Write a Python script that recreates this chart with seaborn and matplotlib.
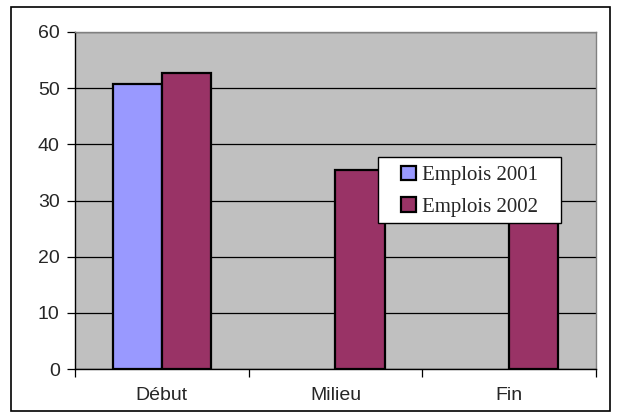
import numpy as np
import pandas as pd
import seaborn as sns
import matplotlib.pyplot as plt
from matplotlib.patches import Rectangle

# data
periods = ['Début', 'Milieu', 'Fin']
emplois_2001 = [50.8, np.nan, np.nan]
emplois_2002 = [52.7, 35.4, 32.0]
series = ['Emplois 2001', 'Emplois 2002']
colors = ['#9999FF', '#993366']

df = pd.DataFrame({'periode': periods * 2,
                   'valeur': emplois_2001 + emplois_2002,
                   'serie': [series[0]] * 3 + [series[1]] * 3})

sns.set_style('white')
plt.rcParams['font.family'] = ['Liberation Sans', 'DejaVu Sans']

fig = plt.figure(figsize=(6.21, 4.18), dpi=100)
ax = fig.add_axes([75 / 621, 1 - 369 / 418, 521 / 621, 337 / 418])

sns.barplot(data=df, x='periode', y='valeur', hue='serie', order=periods,
            hue_order=series, palette=colors, width=0.565, saturation=1,
            edgecolor='black', linewidth=1.6, ax=ax, zorder=3)

ax.set_facecolor('#C0C0C0')
ax.set_xlim(-0.5, 2.5)
ax.set_ylim(0, 60)
ax.set_yticks(range(0, 61, 10))
ax.yaxis.grid(True, color='black', linewidth=0.9, zorder=0)
ax.set_axisbelow(True)
ax.set_xlabel('')
ax.set_ylabel('')

# category ticks sit between the groups, labels in the middle
ax.set_xticks([-0.5, 0.5, 1.5, 2.5])
ax.set_xticklabels([])
ax.set_xticks([0, 1, 2], minor=True)
ax.set_xticklabels(periods, minor=True, fontsize=14)
ax.tick_params(axis='x', which='major', length=6, width=0.9, color='black', direction='out')
ax.tick_params(axis='x', which='minor', length=0, pad=13)
ax.tick_params(axis='y', length=6, width=0.9, color='black', direction='out', labelsize=14, pad=5)
ax.tick_params(bottom=True, left=True)

for side in ['top', 'right']:
    ax.spines[side].set_color('#808080')
    ax.spines[side].set_linewidth(1)
for side in ['left', 'bottom']:
    ax.spines[side].set_color('black')
    ax.spines[side].set_linewidth(1)

# legend box: white frame drawn separately so the padding can match the original
ax.add_patch(Rectangle((0.5816, 0.4332), 0.3512, 0.1958, transform=ax.transAxes,
                       facecolor='white', edgecolor='black', linewidth=1,
                       zorder=4, clip_on=False))
handles, labels = ax.get_legend_handles_labels()
leg = ax.legend(handles, labels, loc='upper left', bbox_to_anchor=(0.6257, 0.603),
                frameon=False, borderpad=0, borderaxespad=0,
                handlelength=0.7, handleheight=0.7, handletextpad=0.3,
                labelspacing=0.58, prop={'family': 'Liberation Serif', 'size': 15})
leg.set_zorder(5)

# outer chart border
fig.patches.append(Rectangle((11 / 621, 7 / 418), 599 / 621, 404 / 418,
                             transform=fig.transFigure, fill=False,
                             edgecolor='black', linewidth=1.2))

fig.savefig('out.png', dpi=100, facecolor='white')
